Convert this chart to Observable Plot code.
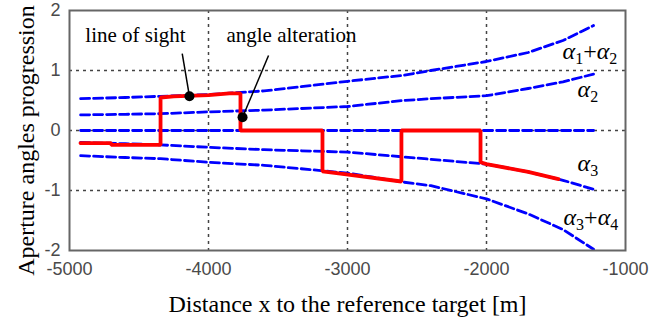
<!DOCTYPE html>
<html>
<head>
<meta charset="utf-8">
<script src="https://cdn.jsdelivr.net/npm/d3@7"></script>
<script src="https://cdn.jsdelivr.net/npm/@observablehq/plot@0.6"></script>
<style>
  html, body { margin: 0; padding: 0; background: #fff; }
  #chart svg { display: block; }
</style>
</head>
<body>
<div id="chart"></div>
<script>
// Blue envelope curves (x = distance in m)
const curveX     = [-4920, -4600, -4345, -4000, -3600, -3000, -2600, -2400, -2000, -1700, -1450, -1230];
const sumTop     = [0.53, 0.55, 0.57, 0.60, 0.66, 0.82, 0.92, 1.00, 1.15, 1.30, 1.50, 1.75];   // α1+α2
const alpha2     = [0.26, 0.27, 0.28, 0.31, 0.34, 0.40, 0.50, 0.53, 0.58, 0.70, 0.81, 0.94];   // α2
const zeroLine   = [0, 0, 0, 0, 0, 0, 0, 0, 0, 0, 0, 0];
const alpha3     = [-0.20, -0.22, -0.24, -0.28, -0.32, -0.36, -0.44, -0.48, -0.56, -0.69, -0.83, -0.98]; // α3
const sumBottom  = [-0.42, -0.45, -0.47, -0.53, -0.58, -0.71, -0.86, -0.92, -1.14, -1.39, -1.65, -1.98]; // α3+α4

// Red line of sight (step path)
const redX = [-4921, -4700, -4700, -4345, -4345, -4250, -4000, -3850, -3770, -3770, -3180, -3180, -3050, -2612, -2612, -2043, -2043, -2000, -1700, -1482];
const redY = [-0.21, -0.21, -0.24, -0.24, 0.55, 0.57, 0.59, 0.62, 0.62, 0, 0, -0.68, -0.72, -0.85, 0, 0, -0.53, -0.56, -0.69, -0.81];

// Tick values
const xTicks = [-5000, -4000, -3000, -2000, -1000];
const yTicks = [-2, -1, 0, 1, 2];
const xGrid = [-4000, -3000, -2000];
const yGrid = [-1, 0, 1];

// Annotations
const noteText = ["line of sight", "angle alteration"];
const noteX    = [-4525, -3403];
const noteY    = [1.47, 1.47];
const leadX1   = [-4189, -3568];
const leadY1   = [1.28, 1.25];
const dotX     = [-4137, -3755];
const dotY     = [0.57, 0.22];

// Curve labels
const labelText = ["α1+α2", "α2", "α3", "α3+α4"];
const labelX    = [-1453, -1345, -1345, -1446];
const labelY    = [1.2, 0.555, -0.68, -1.58];

const curves = [sumTop, alpha2, zeroLine, alpha3, sumBottom].map(vals => curveX.map((x, i) => ({x, y: vals[i]})));
const red = redX.map((x, i) => ({x, y: redY[i]}));
const notes = noteText.map((t, i) => ({t, x: noteX[i], y: noteY[i], x1: leadX1[i], y1: leadY1[i], x2: dotX[i], y2: dotY[i]}));
const labels = labelText.map((t, i) => ({t, x: labelX[i], y: labelY[i]}));

const serif = "'Liberation Serif', 'Times New Roman', serif";
const gridStyle = {stroke: "#444", strokeWidth: 1.5, strokeDasharray: "3,4"};

const chart = Plot.plot({
  width: 663,
  height: 322,
  marginLeft: 69,
  marginRight: 38,
  marginTop: 10,
  marginBottom: 72,
  style: {fontFamily: "'Liberation Sans', Arial, sans-serif", fontSize: "18px", background: "#fff"},
  x: {domain: [-5000, -1000]},
  y: {domain: [-2, 2]},
  marks: [
    Plot.ruleX(xGrid, gridStyle),
    Plot.ruleY(yGrid, gridStyle),
    Plot.axisX({ticks: xTicks, tickSize: 0, tickPadding: 12, tickFormat: d => String(d), label: null, fill: "#4a4a4a", fontSize: 18}),
    Plot.axisY({ticks: yTicks, tickSize: 0, tickPadding: 9, tickFormat: d => String(d), label: null, fill: "#4a4a4a", fontSize: 18}),
    ...curves.map(c => Plot.line(c, {x: "x", y: "y", stroke: "#0000ff", strokeWidth: 2.8, strokeDasharray: "9,4"})),
    Plot.line(red, {x: "x", y: "y", stroke: "#ff0000", strokeWidth: 3.8, strokeLinejoin: "miter"}),
    Plot.frame({stroke: "#666", strokeWidth: 2}),
    Plot.link(notes, {x1: "x1", y1: "y1", x2: "x2", y2: "y2", stroke: "#000", strokeWidth: 1.5}),
    Plot.dot(notes, {x: "x2", y: "y2", r: 5, fill: "#000"}),
    Plot.text(notes, {x: "x", y: "y", text: "t", fontFamily: serif, fontSize: 21, fill: "#000", lineAnchor: "bottom"}),
    Plot.text(labels, {x: "x", y: "y", text: "t", fontFamily: serif, fontSize: 24, fill: "#000", textAnchor: "start", lineAnchor: "bottom", className: "alpha-label"}),
    Plot.text(["Distance x to the reference target [m]"], {frameAnchor: "bottom", dy: 61, fontFamily: serif, fontSize: 24, fill: "#000", textAnchor: "middle", lineAnchor: "bottom"}),
    Plot.text(["Aperture angles progression"], {frameAnchor: "left", dx: -36, dy: 10, rotate: -90, fontFamily: serif, fontSize: 24, fill: "#000", textAnchor: "middle", lineAnchor: "bottom"})
  ]
});

// Render α labels with italic alpha and subscript indices
d3.select(chart).selectAll("g.alpha-label text").each(function() {
  const el = d3.select(this);
  const s = el.text();
  el.text(null);
  const parts = s.match(/α\d|\+/g) || [];
  let lowered = false;
  parts.forEach(p => {
    if (p === "+") {
      el.append("tspan").attr("font-style", "normal").attr("dy", lowered ? -5 : 0).text("+");
      lowered = false;
    } else {
      el.append("tspan").attr("font-style", "italic").attr("dy", lowered ? -5 : 0).text("α");
      el.append("tspan").attr("font-size", 16).attr("dy", 5).text(p[1]);
      lowered = true;
    }
  });
});

document.getElementById("chart").appendChild(chart);
</script>
</body>
</html>
